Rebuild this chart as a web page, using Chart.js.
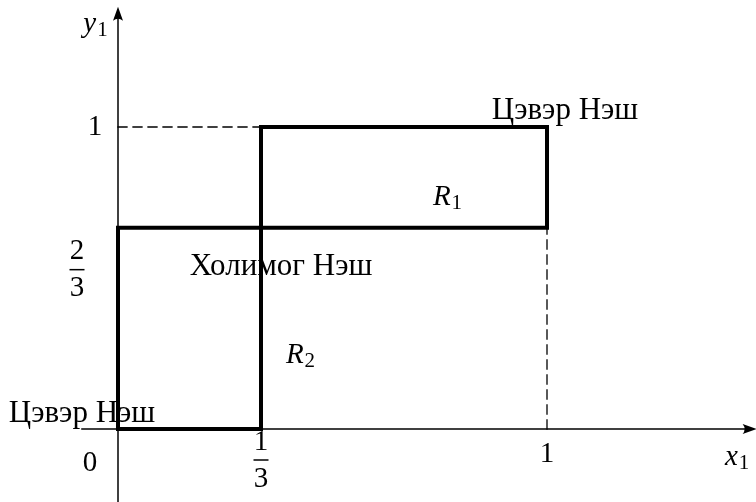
<!DOCTYPE html>
<html lang="mn">
<head>
<meta charset="UTF-8">
<title>Нэшийн тэнцвэр</title>
<style>
  body { margin: 0; background: #fff; }
  canvas { display: block; }
</style>
</head>
<body>
<canvas id="chart" width="756" height="502"></canvas>
<script src="https://cdn.jsdelivr.net/npm/chart.js"></script>
<script>
// хариу үйлдлийн муруйнууд
const r1X = [0, 0, 1, 1];
const r1Y = [0, 2/3, 2/3, 1];
const r2X = [0, 1/3, 1/3, 1];
const r2Y = [0, 0, 1, 1];

// тасархай туслах шугамууд
const guideHX = [0, 1/3];
const guideHY = [1, 1];
const guideVX = [1, 1];
const guideVY = [0, 1];

// тэнхлэгийн тэмдэглэгээ
const xTickValues = [0, 1/3, 1];
const xTickLabels = ['0', '1/3', '1'];
const yTickValues = [1, 2/3];
const yTickLabels = ['1', '2/3'];

// тэнцвэрийн цэгүүд
const eqX = [0, 1, 1/3];
const eqY = [0, 1, 2/3];
const eqLabels = ['Цэвэр Нэш', 'Цэвэр Нэш', 'Холимог Нэш'];

// тэнхлэгийн урт
const axisX = [-0.084, 1.47];
const axisY = [-0.245, 1.372];

const FONT = '"Liberation Serif", "DejaVu Serif", serif';

function pts(xs, ys) {
    return xs.map((x, i) => ({ x: x, y: ys[i] }));
}

function line(data, width, dash) {
    return {
        data: data,
        showLine: true,
        borderColor: '#000',
        borderWidth: width,
        borderDash: dash || [],
        pointRadius: 0,
        fill: false,
        tension: 0,
        borderJoinStyle: 'miter',
        borderCapStyle: 'square'
    };
}

// курсив үсэг + доод индекс
function mathLabel(ctx, main, sub, cx, cy) {
    ctx.font = 'italic 29px ' + FONT;
    const w1 = ctx.measureText(main).width;
    ctx.font = '21px ' + FONT;
    const w2 = ctx.measureText(sub).width;
    let x = cx - (w1 + w2) / 2;
    ctx.textAlign = 'left';
    ctx.textBaseline = 'middle';
    ctx.font = 'italic 29px ' + FONT;
    ctx.fillText(main, x, cy);
    ctx.font = '21px ' + FONT;
    ctx.fillText(sub, x + w1 + 1, cy + 6);
}

function plainLabel(ctx, text, cx, cy) {
    const parts = text.split('/');
    ctx.textAlign = 'center';
    ctx.textBaseline = 'middle';
    ctx.font = '29px ' + FONT;
    if (parts.length === 1) {
        ctx.fillText(text, cx, cy);
        return;
    }
    // бутархай
    ctx.fillText(parts[0], cx, cy - 18);
    ctx.fillText(parts[1], cx, cy + 19);
    ctx.fillRect(cx - 7.5, cy - 0.75, 15, 1.5);
}

const decor = {
    id: 'decor',
    afterDatasetsDraw(chart) {
        const ctx = chart.ctx;
        const xs = chart.scales.x, ys = chart.scales.y;
        const px = v => xs.getPixelForValue(v);
        const py = v => ys.getPixelForValue(v);
        ctx.save();
        ctx.fillStyle = '#000';

        // сумнууд
        const ax = px(axisX[1]), ay = py(0);
        ctx.beginPath();
        ctx.moveTo(ax + 8, ay);
        ctx.lineTo(ax - 6, ay - 5);
        ctx.quadraticCurveTo(ax - 2, ay, ax - 6, ay + 5);
        ctx.closePath();
        ctx.fill();
        const bx = px(0), by = py(axisY[1]);
        ctx.beginPath();
        ctx.moveTo(bx, by - 8);
        ctx.lineTo(bx - 5, by + 6);
        ctx.quadraticCurveTo(bx, by + 2, bx + 5, by + 6);
        ctx.closePath();
        ctx.fill();

        // x тэнхлэгийн тэмдэглэгээ
        xTickValues.forEach((v, i) => {
            const lab = xTickLabels[i];
            if (v === 0) {
                plainLabel(ctx, lab, px(v) - 28, py(0) + 34);
            } else if (lab.includes('/')) {
                plainLabel(ctx, lab, px(v), py(0) + 31);
            } else {
                plainLabel(ctx, lab, px(v), py(0) + 25);
            }
        });
        // y тэнхлэгийн тэмдэглэгээ
        yTickValues.forEach((v, i) => {
            const lab = yTickLabels[i];
            if (lab.includes('/')) {
                plainLabel(ctx, lab, px(0) - 41, py(v) + 42);
            } else {
                plainLabel(ctx, lab, px(0) - 23, py(v));
            }
        });

        mathLabel(ctx, 'x', '1', px(axisX[1]) - 12, py(0) + 28);
        mathLabel(ctx, 'y', '1', px(0) - 23, py(axisY[1]) + 10);

        // тэнцвэрийн нэрс
        const eqOffsets = [[-36, -15], [18, -16], [20, 39]];
        eqLabels.forEach((t, i) => {
            ctx.font = '31px ' + FONT;
            ctx.textAlign = 'center';
            ctx.textBaseline = 'middle';
            ctx.fillText(t, px(eqX[i]) + eqOffsets[i][0], py(eqY[i]) + eqOffsets[i][1]);
        });

        mathLabel(ctx, 'R', '1', px(r1X[3]) - 100, py(r1Y[2]) - 30);
        mathLabel(ctx, 'R', '2', px(r2X[1]) + 39, py(r2Y[1]) - 74);
        ctx.restore();
    }
};

new Chart(document.getElementById('chart'), {
    type: 'scatter',
    data: {
        datasets: [
            line(pts(axisX, [0, 0]), 1.5),
            line(pts([0, 0], axisY), 1.5),
            line(pts(guideHX, guideHY), 1.3, [9, 6]),
            line(pts(guideVX, guideVY), 1.3, [9, 6]),
            line(pts(r1X, r1Y), 4),
            line(pts(r2X, r2Y), 4)
        ]
    },
    options: {
        responsive: false,
        animation: false,
        layout: { padding: 0 },
        plugins: {
            legend: { display: false },
            tooltip: { enabled: false }
        },
        scales: {
            x: { type: 'linear', display: false, min: -118 / 429, max: 638 / 429 },
            y: { type: 'linear', display: false, min: -73 / 302, max: 429 / 302 }
        }
    },
    plugins: [decor]
});
</script>
</body>
</html>
